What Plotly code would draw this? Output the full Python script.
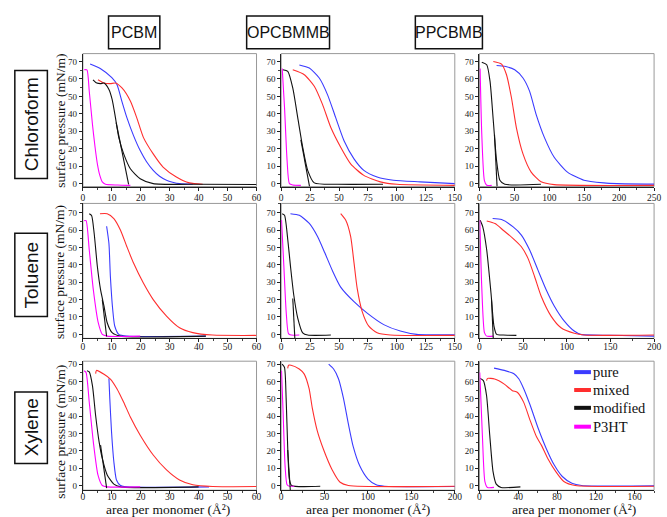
import plotly.graph_objects as go

W, H = 667, 517

# ---------------- data: Langmuir isotherms (area per monomer, surface pressure) ----------------
# Chloroform
chl_pcbm_pure_x = [2.5, 6, 10, 11.8, 13.5, 15.2, 17.5, 19.8, 22, 24.3, 26.5, 28.9, 31, 33.4, 38]
chl_pcbm_pure_y = [68.6, 66, 60.7, 56.7, 47, 37.8, 27.5, 18.9, 12.5, 7.6, 4.2, 1.9, 0.8, 0, -0.3]
chl_pcbm_mixed_x = [5.2, 7.3, 9.5, 11.25, 13.5, 16.4, 18.6, 20.9, 24.3, 27.7, 32.3, 36.8, 41.4]
chl_pcbm_mixed_y = [59.5, 57.6, 57.3, 57.6, 54.8, 47.3, 37.8, 26.5, 17, 9.5, 3.8, 0.4, -0.4]
chl_pcbm_mod_x = [3.5, 4.8, 6.1, 7.3, 9.0, 10.1, 11.25, 12.4, 14.1, 16.4, 19.8, 24.3, 40, 60]
chl_pcbm_mod_y = [59.5, 57.6, 57.3, 57.6, 53.9, 48.2, 37.8, 26.5, 17, 8.5, 2.8, 0, -0.4, -0.5]
chl_pcbm_mod2_x = [11.5, 15.8]
chl_pcbm_mod2_y = [35, -0.4]
chl_pcbm_p3ht_x = [0.45, 1.4, 2.2, 3.3, 4.2, 5.0, 5.8, 6.7, 7.8, 12, 16.4]
chl_pcbm_p3ht_y = [65.2, 65.2, 52.9, 34, 21, 11.3, 5, 1, -0.4, -0.8, -1]

chl_opc_pure_x = [15.7, 24.3, 32.9, 40, 47.1, 54.3, 62.9, 71.4, 82.9, 97, 120, 150]
chl_opc_pure_y = [68, 66.2, 60.5, 51, 37.8, 24.6, 14.2, 7.6, 3.8, 1.9, 1, 0]
chl_opc_mixed_x = [10, 20, 28.6, 35.7, 42.9, 51.4, 60, 71.4, 85.7, 100, 150]
chl_opc_mixed_y = [65.2, 62.4, 55.8, 45.4, 32.1, 20.8, 11.3, 4.7, 1, -0.4, -1]
chl_opc_mod_x = [1.4, 5.7, 10, 14.3, 18.6, 22.9, 28.6, 48.6, 88]
chl_opc_mod_y = [65.2, 64.3, 54.8, 37.8, 20.8, 7.6, 0.4, -0.4, -0.4]
chl_opc_mod2_x = [17, 24.5]
chl_opc_mod2_y = [25, -1.7]
chl_opc_p3ht_x = [0.9, 2.9, 5.1, 7.1, 10, 17]
chl_opc_p3ht_y = [66, 43.5, 13.2, 0, -0.8, -1]

chl_ppc_pure_x = [24.5, 36.3, 50.5, 62.3, 71.7, 81.1, 92.9, 107, 126, 149.5, 178, 197, 250]
chl_ppc_pure_y = [67.7, 67.2, 65.2, 60.5, 53, 39.7, 26.5, 15.1, 6.6, 1.9, 0.4, 0, -0.3]
chl_ppc_mixed_x = [19.8, 31.6, 38.7, 45.8, 52.8, 62.3, 74, 88.2, 107, 250]
chl_ppc_mixed_y = [70, 68.5, 62.4, 49.2, 32.1, 17, 6.6, 1, -0.6, -1]
chl_ppc_mod_x = [3.3, 10.4, 15.1, 19.8, 24.5, 29.2, 36.3, 88]
chl_ppc_mod_y = [69.6, 68.1, 58.7, 36, 13.2, 1.9, -0.4, -0.4]
chl_ppc_mod2_x = [21.5, 25.2]
chl_ppc_mod2_y = [28, -1.7]
chl_ppc_p3ht_x = [0.9, 3.3, 7, 10.4, 17.5]
chl_ppc_p3ht_y = [66, 28.4, 1.9, -1, -1]

# Toluene
tol_pcbm_pure_x = [8.2, 9, 9.5, 10.3, 11, 12.4, 15.2, 42.5]
tol_pcbm_pure_y = [62.2, 52.3, 33.3, 14.3, 4.8, 0, -1, -1]
tol_pcbm_mixed_x = [5.9, 8.4, 10.7, 13, 15.2, 17.5, 20.9, 24.3, 28.9, 33.4, 38, 44.8, 60]
tol_pcbm_mixed_y = [69.4, 69.4, 66.6, 59.9, 50.4, 41, 29.5, 20, 10.5, 3.8, 1, -0.4, -0.6]
tol_pcbm_mod_x = [2.2, 3, 3.9, 5, 6.1, 7.3, 8.4, 10.1, 13, 42.5]
tol_pcbm_mod_y = [69.4, 68.4, 58, 39, 25.7, 16.2, 6.7, 1, -1, -1]
tol_pcbm_mod2_x = [6.7, 8.2]
tol_pcbm_mod2_y = [20, -1.2]
tol_pcbm_p3ht_x = [0.45, 1.1, 2.2, 3.6, 5.3, 6.7, 8.4, 19.8]
tol_pcbm_p3ht_y = [65.4, 65.4, 48.5, 25.7, 6.7, 0, -1, -1]

tol_opc_pure_x = [8, 15.7, 24.3, 31.4, 37.7, 44.3, 51.4, 62.9, 74.3, 88.6, 102.9, 117, 150]
tol_opc_pure_y = [69.4, 68.5, 63.8, 56.3, 46.9, 36.6, 27.2, 18.8, 12.2, 5.6, 1.9, 0, -0.3]
tol_opc_mixed_x = [51.4, 55.7, 60, 62.9, 65.7, 70, 75.7, 82.9, 94.3, 150]
tol_opc_mixed_y = [69.4, 65.7, 56.3, 41.3, 26.3, 13.1, 4.7, 0.9, -0.4, -0.6]
tol_opc_mod_x = [0.9, 2.9, 5.7, 8, 10.9, 14.3, 18.6, 22.9, 42.9]
tol_opc_mod_y = [69.4, 68.5, 54.4, 39.4, 22.5, 9.4, 0.9, -0.4, -0.4]
tol_opc_mod2_x = [10, 11.8]
tol_opc_mod2_y = [20.6, -2.3]
tol_opc_p3ht_x = [0.3, 2.3, 4.3, 6.3, 8.6, 15.7]
tol_opc_p3ht_y = [65.7, 39.4, 13.1, 0.4, -0.4, -0.4]

tol_ppc_pure_x = [15.1, 25.3, 38.6, 48, 57.5, 66.9, 76.4, 85.8, 97.2, 108.5, 116, 150, 200]
tol_ppc_pure_y = [66.6, 66, 61.8, 57.1, 48.5, 37.1, 25.7, 16.2, 7.6, 1.9, 0, -0.5, -1]
tol_ppc_mixed_x = [8.3, 17.8, 27.2, 38.6, 48, 55.6, 63.1, 70.7, 82, 93.4, 108.5, 119.8, 200]
tol_ppc_mixed_y = [65.2, 63.7, 59.9, 55.1, 50.4, 43.7, 33.3, 21.9, 10.5, 3.8, 0.6, -0.4, -0.4]
tol_ppc_mod_x = [0.8, 3.8, 8.3, 13.2, 16.6, 19.7, 27.2, 42.3]
tol_ppc_mod_y = [65.6, 61.8, 48.5, 23.8, 4.8, 0, -0.4, -0.6]
tol_ppc_mod2_x = [13.8, 15.8]
tol_ppc_mod2_y = [20, -2.3]
tol_ppc_p3ht_x = [0.4, 2.6, 5.7, 8.3, 15.9]
tol_ppc_p3ht_y = [65.6, 27.6, 1, -1, -1]

# Xylene
xyl_pcbm_pure_x = [9, 9.3, 9.9, 10.7, 11.6, 13, 15.2, 43.6]
xyl_pcbm_pure_y = [61.8, 50, 30.9, 13.7, 3.2, 0, -0.8, -0.8]
xyl_pcbm_mixed_x = [4.4, 4.7, 7.3, 9.5, 11.8, 14.1, 16.4, 19.8, 24.3, 28.9, 33.4, 38, 44.8, 60]
xyl_pcbm_mixed_y = [64.5, 66.4, 64.2, 61.4, 55.7, 48, 39.5, 29, 17.6, 9, 3.2, 0.4, -0.6, -0.6]
xyl_pcbm_mod_x = [1.4, 2.2, 3.3, 4.4, 5.6, 6.7, 8.4, 10.7, 13, 40]
xyl_pcbm_mod_y = [66.2, 65.5, 57.6, 40.4, 25.2, 15.6, 6.1, 0.8, -0.8, -0.8]
xyl_pcbm_mod2_x = [6.1, 8.2]
xyl_pcbm_mod2_y = [23.3, -1.5]
xyl_pcbm_p3ht_x = [0.45, 1.1, 2.2, 3.6, 5.2, 6.7, 8.4, 19.8]
xyl_pcbm_p3ht_y = [66.2, 65.2, 48, 25.2, 6.1, 0, -0.8, -0.8]

xyl_opc_pure_x = [54.7, 60.4, 66, 71.7, 77.4, 83, 90.6, 100, 109.4, 118.9, 200]
xyl_opc_pure_y = [70, 67.2, 61.6, 50.4, 35.5, 22.4, 11.2, 3.7, 0.4, -0.4, -0.6]
xyl_opc_mixed_x = [7.5, 8.5, 11.3, 20.8, 26.4, 32.1, 35.8, 41.5, 49, 58.5, 67.9, 77.4, 200]
xyl_opc_mixed_y = [67.6, 69.4, 69.4, 67.2, 64.4, 56, 44.8, 31.7, 20.5, 9.3, 1.9, 0, -0.4]
xyl_opc_mod_x = [1.1, 3.8, 5.7, 7.5, 9.4, 12, 45]
xyl_opc_mod_y = [70, 68.1, 50.4, 22.4, 3.7, 0, -0.4]
xyl_opc_mod2_x = [7.5, 10.5]
xyl_opc_mod2_y = [20.5, -2.7]
xyl_opc_p3ht_x = [0.4, 2.3, 4.5, 6.8, 9.4, 15]
xyl_opc_p3ht_y = [66.2, 41, 11.2, 0.4, -0.4, -0.4]

xyl_ppc_pure_x = [15, 25.6, 35.5, 40.5, 45.5, 52.2, 60.5, 68.8, 77.1, 85.4, 95.3, 105.3, 180]
xyl_ppc_pure_y = [67.7, 66.4, 64.5, 61.6, 56, 46.4, 33, 21.4, 11.8, 5.2, 1.3, 0, -0.2]
xyl_ppc_mixed_x = [7.3, 8.3, 15.6, 25.6, 33.9, 38.9, 45.5, 52.2, 58.8, 63.8, 70.4, 78.7, 87, 98.7, 180]
xyl_ppc_mixed_y = [60.5, 61.8, 61.4, 58.5, 54.7, 53.8, 48.1, 37.6, 28.1, 23.3, 15.6, 8, 2.3, 0, -0.4]
xyl_ppc_mod_x = [0.7, 4, 7.3, 10.6, 14, 17.3, 22.3, 42.2]
xyl_ppc_mod_y = [61.8, 60.5, 51.9, 29, 8, 0.8, -1.1, -0.8]
xyl_ppc_p3ht_x = [0.3, 3, 5.6, 8.3, 15]
xyl_ppc_p3ht_y = [65.2, 29, 2.3, -1.1, -1.1]

# labels
materials = ["PCBM", "OPCBMMB", "PPCBMB"]
solvents = ["Chloroform", "Toluene", "Xylene"]
series_names = ["pure", "mixed", "modified", "P3HT"]
series_colors = ["#3b3bff", "#ff2e2e", "#111111", "#ff00ff"]

# axis settings per panel (row-major)
x_ranges = [[0, 60], [0, 150], [0, 250],
            [0, 60], [0, 150], [0, 200],
            [0, 60], [0, 200], [0, 180]]
x_dticks = [10, 25, 50,
            10, 25, 50,
            10, 50, 40]
y_ranges = [[-1.7, 74.5], [-2.3, 75.3], [-2.7, 71.7]]
y_tickvals = [0, 10, 20, 30, 40, 50, 60, 70]

# ---------------- assemble panels ----------------
panels = [
    [(chl_pcbm_pure_x, chl_pcbm_pure_y), (chl_pcbm_mixed_x, chl_pcbm_mixed_y),
     (chl_pcbm_mod_x, chl_pcbm_mod_y), (chl_pcbm_p3ht_x, chl_pcbm_p3ht_y), (chl_pcbm_mod2_x, chl_pcbm_mod2_y)],
    [(chl_opc_pure_x, chl_opc_pure_y), (chl_opc_mixed_x, chl_opc_mixed_y),
     (chl_opc_mod_x, chl_opc_mod_y), (chl_opc_p3ht_x, chl_opc_p3ht_y), (chl_opc_mod2_x, chl_opc_mod2_y)],
    [(chl_ppc_pure_x, chl_ppc_pure_y), (chl_ppc_mixed_x, chl_ppc_mixed_y),
     (chl_ppc_mod_x, chl_ppc_mod_y), (chl_ppc_p3ht_x, chl_ppc_p3ht_y), (chl_ppc_mod2_x, chl_ppc_mod2_y)],
    [(tol_pcbm_pure_x, tol_pcbm_pure_y), (tol_pcbm_mixed_x, tol_pcbm_mixed_y),
     (tol_pcbm_mod_x, tol_pcbm_mod_y), (tol_pcbm_p3ht_x, tol_pcbm_p3ht_y), (tol_pcbm_mod2_x, tol_pcbm_mod2_y)],
    [(tol_opc_pure_x, tol_opc_pure_y), (tol_opc_mixed_x, tol_opc_mixed_y),
     (tol_opc_mod_x, tol_opc_mod_y), (tol_opc_p3ht_x, tol_opc_p3ht_y), (tol_opc_mod2_x, tol_opc_mod2_y)],
    [(tol_ppc_pure_x, tol_ppc_pure_y), (tol_ppc_mixed_x, tol_ppc_mixed_y),
     (tol_ppc_mod_x, tol_ppc_mod_y), (tol_ppc_p3ht_x, tol_ppc_p3ht_y), (tol_ppc_mod2_x, tol_ppc_mod2_y)],
    [(xyl_pcbm_pure_x, xyl_pcbm_pure_y), (xyl_pcbm_mixed_x, xyl_pcbm_mixed_y),
     (xyl_pcbm_mod_x, xyl_pcbm_mod_y), (xyl_pcbm_p3ht_x, xyl_pcbm_p3ht_y), (xyl_pcbm_mod2_x, xyl_pcbm_mod2_y)],
    [(xyl_opc_pure_x, xyl_opc_pure_y), (xyl_opc_mixed_x, xyl_opc_mixed_y),
     (xyl_opc_mod_x, xyl_opc_mod_y), (xyl_opc_p3ht_x, xyl_opc_p3ht_y), (xyl_opc_mod2_x, xyl_opc_mod2_y)],
    [(xyl_ppc_pure_x, xyl_ppc_pure_y), (xyl_ppc_mixed_x, xyl_ppc_mixed_y),
     (xyl_ppc_mod_x, xyl_ppc_mod_y), (xyl_ppc_p3ht_x, xyl_ppc_p3ht_y)],
]

# layout geometry in pixels
col_px = [(82, 258), (283, 459), (484, 661)]
row_px = [(52, 186), (203, 339), (362, 492)]
row_label_shift = [-1, -4, -6]


def px(x):
    return x / W


def py(y):
    return 1 - y / H


SERIF = "Liberation Serif, Times New Roman, serif"
SANS_NARROW = "Liberation Sans Narrow, Arial Narrow, Liberation Sans, Arial, sans-serif"
SANS = "Liberation Sans, Arial, sans-serif"

fig = go.Figure()
layout = dict(
    width=W, height=H, margin=dict(l=0, r=0, t=0, b=0),
    paper_bgcolor="white", plot_bgcolor="white", showlegend=False,
)

shapes = []
annotations = []


def label(text, x, y, size, family, angle=0, xanchor="center"):
    annotations.append(dict(text=text, x=px(x), y=py(y), xref="paper", yref="paper",
                            xanchor=xanchor, yanchor="middle", showarrow=False,
                            textangle=angle, font=dict(family=family, size=size, color="#111")))


for n, series in enumerate(panels):
    r, c = divmod(n, 3)
    idx = "" if n == 0 else str(n + 1)
    xa, ya = "x" + idx, "y" + idx
    for k, (xs, ys) in enumerate(series):
        color_i = 2 if k == 4 else k
        fig.add_trace(go.Scatter(
            x=xs, y=ys, xaxis=xa, yaxis=ya, mode="lines",
            line=dict(color=series_colors[color_i], width=1.1, shape="spline", smoothing=0.6),
            name=series_names[color_i], hoverinfo="skip",
        ))
    x0, x1 = col_px[c]
    y0, y1 = row_px[r]
    dt = x_dticks[n]
    layout["xaxis" + idx] = dict(
        domain=[px(x0), px(x1)], anchor=ya, range=x_ranges[n], dtick=dt, tick0=0,
        showgrid=False, zeroline=False, showline=True, linecolor="#222", linewidth=1,
        ticks="outside", ticklen=3, tickcolor="#222", ticklabelstandoff=row_label_shift[r],
        minor=dict(ticks="outside", ticklen=2, dtick=dt / 2, tick0=0, tickcolor="#444"),
        tickfont=dict(family=SERIF, size=9.5, color="#222"),
    )
    layout["yaxis" + idx] = dict(
        domain=[py(y1), py(y0)], anchor=xa, range=y_ranges[r], tickvals=y_tickvals,
        showgrid=False, zeroline=False, showline=True, linecolor="#222", linewidth=1,
        ticks="outside", ticklen=3, tickcolor="#222",
        minor=dict(ticks="outside", ticklen=2, dtick=5, tick0=0, tickcolor="#444"),
        tickfont=dict(family=SERIF, size=9, color="#222"),
    )
    # light frame on the top/right of each panel
    shapes.append(dict(type="rect", xref=xa + " domain", yref=ya + " domain",
                       x0=0, x1=1, y0=0, y1=1, line=dict(color="#999", width=1), layer="below"))

# column headers in boxes
header_boxes = [(108, 160), (248, 332), (419, 487)]
for name, (bx0, bx1) in zip(materials, header_boxes):
    shapes.append(dict(type="rect", xref="paper", yref="paper",
                       x0=px(bx0), x1=px(bx1), y0=py(47), y1=py(14),
                       line=dict(color="#111", width=1.5)))
    label(name, (bx0 + bx1) / 2, 31, 16, SANS_NARROW)

# solvent labels in rotated boxes
row_boxes = [(69, 178), (233, 317), (393, 465)]
for name, (by0, by1) in zip(solvents, row_boxes):
    shapes.append(dict(type="rect", xref="paper", yref="paper",
                       x0=px(13), x1=px(46), y0=py(by1), y1=py(by0),
                       line=dict(color="#111", width=1.5)))
    label(name, 30, (by0 + by1) / 2, 19, SANS, angle=-90)

# y-axis titles on the left column
for yc in [119.5, 272, 433]:
    label("surface pressure (mN/m)", 59, yc, 13.5, SERIF, angle=-90)

# x-axis titles under the bottom row
for xc in [168, 371, 580]:
    label("area per monomer (Å²)", xc, 511.5, 13.5, SERIF)

# legend inside the last panel
legend_rows = [373, 391, 409, 428]
for name, color, ly in zip(series_names, series_colors, legend_rows):
    shapes.append(dict(type="line", xref="paper", yref="paper",
                       x0=px(580), x1=px(597), y0=py(ly), y1=py(ly),
                       line=dict(color=color, width=4)))
    label(name, 597, ly, 14.5, SERIF, xanchor="left")

layout["shapes"] = shapes
layout["annotations"] = annotations
fig.update_layout(**layout)

fig.write_html("out.html")
